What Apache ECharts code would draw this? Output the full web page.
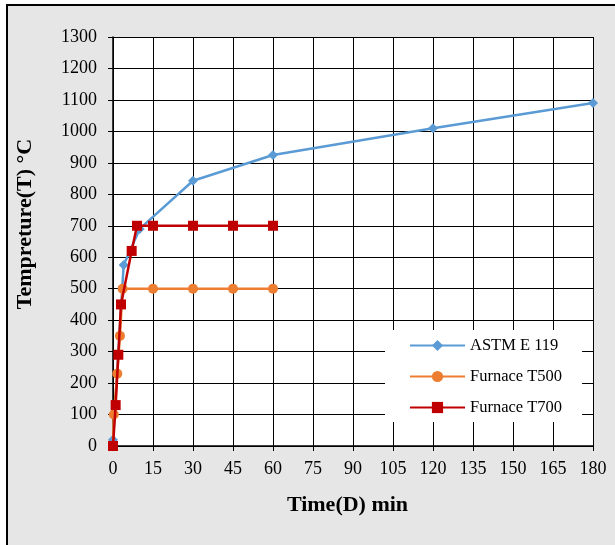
<!DOCTYPE html>
<html><head><meta charset="utf-8">
<script src="https://cdn.jsdelivr.net/npm/echarts@6/dist/echarts.min.js"></script>
<style>
html,body{margin:0;padding:0;background:#fff;width:615px;height:545px;overflow:hidden;}
#frame{position:absolute;left:6px;top:4px;width:700px;height:700px;border-left:2px solid #000;border-top:2px solid #000;background:#e6e6e6;}
#c{position:absolute;left:0;top:0;width:615px;height:545px;}
</style></head>
<body>
<div id="frame"></div>
<div id="c"></div>
<script>
var seriesNames = ['ASTM E 119', 'Furnace T500', 'Furnace T700'];
var astm = [[0,20],[4,575],[10,690],[30,843],[60,925],[120,1010],[180,1090]];
var t500 = [[0,0],[0.3,100],[1.6,230],[2.6,350],[3.6,500],[15,500],[30,500],[45,500],[60,500]];
var t700 = [[0,0],[1,130],[2,290],[3,450],[7,620],[9,700],[15,700],[30,700],[45,700],[60,700]];
var xTitle = 'Time(D) min';
var yTitle = 'Tempreture(T) \u00B0C';

var font = 'Liberation Serif';
var chart = echarts.init(document.getElementById('c'), null, {renderer:'canvas'});
chart.setOption({
  backgroundColor: 'transparent',
  animation: false,
  grid: {left:113, right:22, top:37, bottom:99, containLabel:false, show:true, backgroundColor:'#fff', borderWidth:0},
  legend: {
    orient:'vertical', left:385, top:330,
    backgroundColor:'#fff', padding:[7,20,6,24],
    itemWidth:55, itemHeight:14, itemGap:14,
    textStyle:{fontFamily:font, fontSize:16.5, color:'#000'},
    data: seriesNames
  },
  xAxis: {
    type:'value', min:0, max:180, interval:15,
    name:xTitle, nameLocation:'middle', nameGap:48,
    nameTextStyle:{fontFamily:font, fontSize:22, fontWeight:'bold', color:'#000', padding:[0,11,0,0]},
    axisLine:{show:true, onZero:false, lineStyle:{color:'#000', width:1.5}},
    axisTick:{show:true, length:5, lineStyle:{color:'#000'}},
    axisLabel:{fontFamily:font, fontSize:18, color:'#000', margin:14},
    splitLine:{show:true, lineStyle:{color:'#000', width:1}}
  },
  yAxis: {
    type:'value', min:0, max:1300, interval:100,
    name:yTitle, nameLocation:'middle', nameGap:77, nameRotate:90,
    nameTextStyle:{fontFamily:font, fontSize:22, fontWeight:'bold', color:'#000', padding:[0,0,0,35]},
    axisLine:{show:true, lineStyle:{color:'#000', width:1.5}},
    axisTick:{show:true, length:5, lineStyle:{color:'#000'}},
    axisLabel:{fontFamily:font, fontSize:18, color:'#000', margin:16, formatter:function(v){return String(v);}},
    splitLine:{show:true, lineStyle:{color:'#000', width:1}}
  },
  series: [
    {name:seriesNames[0], type:'line', data:astm, symbol:'diamond', symbolSize:10,
     lineStyle:{color:'#5b9bd5', width:2.5}, itemStyle:{color:'#5b9bd5'}, z:2},
    {name:seriesNames[1], type:'line', data:t500, symbol:'circle', symbolSize:10,
     lineStyle:{color:'#ed7d31', width:2.5}, itemStyle:{color:'#ed7d31'}, z:3},
    {name:seriesNames[2], type:'line', data:t700, symbol:'rect', symbolSize:10,
     lineStyle:{color:'#c00000', width:2.5}, itemStyle:{color:'#c00000'}, z:4}
  ]
});
</script>
</body></html>
